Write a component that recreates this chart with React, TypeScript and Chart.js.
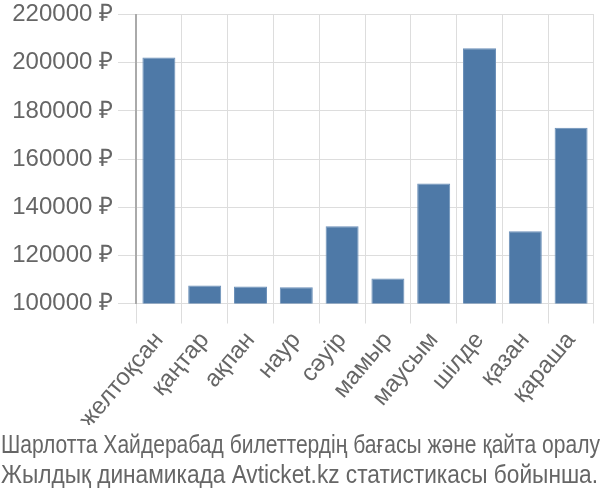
import React, { useEffect, useRef } from "react";
import { Chart, registerables } from "chart.js";

Chart.register(...registerables);

const categories = ["желтоқсан", "қаңтар", "ақпан", "наур", "сәуір", "мамыр", "маусым", "шілде", "қазан", "қараша"];
const prices = [202200, 107500, 107100, 106800, 132100, 110400, 149800, 206000, 130000, 173000];
const yMin = 100000;
const yMax = 220000;
const yStep = 20000;
const captionLines = [
  "Шарлотта Хайдерабад билеттердің бағасы және қайта оралу",
  "Жылдық динамикада Avticket.kz статистикасы бойынша.",
];

const captionPlugin = {
  id: "caption",
  afterDraw(chart: any) {
    const ctx = chart.ctx as CanvasRenderingContext2D;
    ctx.save();
    ctx.font = "25px 'Liberation Sans'";
    ctx.fillStyle = "#666";
    ctx.textBaseline = "alphabetic";
    ctx.textAlign = "left";
    const baselines = [453, 483];
    const widths = [599, 597];
    captionLines.forEach((line, i) => {
      const w = ctx.measureText(line).width;
      ctx.save();
      ctx.translate(1, baselines[i]);
      ctx.scale(widths[i] / w, 1);
      ctx.fillText(line, 0, 0);
      ctx.restore();
    });
    ctx.restore();
  },
};

export default function App() {
  const ref = useRef<HTMLCanvasElement | null>(null);
  useEffect(() => {
    document.body.style.margin = "0";
    const ctx = ref.current!;
    const chart = new Chart(ctx, {
      type: "bar",
      data: {
        labels: categories,
        datasets: [
          {
            data: prices,
            backgroundColor: "#4e79a7",
            borderColor: "#6a8fb8",
            borderWidth: 1,
          },
        ],
      },
      plugins: [captionPlugin],
      options: {
        responsive: false,
        animation: false,
        layout: { padding: { left: 0, right: 6, top: 11, bottom: 75 } },
        plugins: {
          legend: { display: false },
          tooltip: { enabled: false },
          title: { display: false },
        },
        scales: {
          x: {
            grid: { color: "#dddddd", tickLength: 20, drawOnChartArea: true },
            border: { display: false },
            ticks: {
              color: "#666",
              font: { family: "Liberation Sans", size: 24 },
              minRotation: 50,
              maxRotation: 50,
            },
            afterFit: (s: any) => {
              s.height = 121.5;
            },
          },
          y: {
            min: yMin,
            max: yMax,
            grid: { color: "#dddddd", tickLength: 18 },
            border: { display: true, color: "#aaaaaa", width: 2 },
            ticks: {
              stepSize: yStep,
              color: "#666",
              font: { family: "Liberation Sans", size: 24, lineHeight: 0.8 },
              callback: (v: any) => `${v} ₽`,
              padding: 5,
            },
            afterFit: (s: any) => {
              s.width = 136;
            },
          },
        },
      },
    });
    return () => chart.destroy();
  }, []);
  return <canvas ref={ref} width={600} height={500} />;
}
